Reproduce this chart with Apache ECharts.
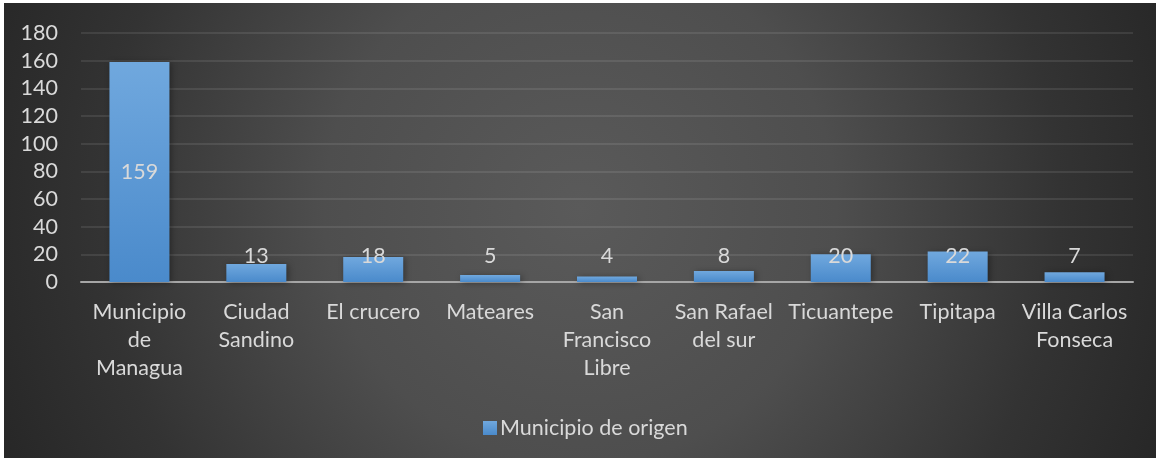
<!DOCTYPE html>
<html>
<head>
<meta charset="utf-8">
<script src="https://cdn.jsdelivr.net/npm/echarts@6/dist/echarts.min.js"></script>
<style>
  html, body { margin: 0; padding: 0; background: #ffffff; }
  #wrap {
    position: absolute; left: 4px; top: 3px; width: 1152px; height: 455px;
    background: radial-gradient(circle 640px at 50% 45%, #5a5a5a 0%, #4e4e4e 40%, #333333 75%, #262626 100%);
  }
  #chart { width: 1152px; height: 455px; }
</style>
</head>
<body>
<div id="wrap"><div id="chart"></div></div>
<script>
// categorias (con saltos de linea como en el original)
var municipios = ['Municipio\nde\nManagua', 'Ciudad\nSandino', 'El crucero', 'Mateares',
  'San\nFrancisco\nLibre', 'San Rafael\ndel sur', 'Ticuantepe', 'Tipitapa', 'Villa Carlos\nFonseca'];
var valores = [159, 13, 18, 5, 4, 8, 20, 22, 7];
var serieNombre = 'Municipio de origen';
var yTicks = [0, 20, 40, 60, 80, 100, 120, 140, 160, 180];

var fuente = 'Lato, "Open Sans", sans-serif';
var gris = '#d9d9d9';
var tam = 21.5;

var chart = echarts.init(document.getElementById('chart'));

var datos = valores.map(function (v) {
  return {
    value: v,
    label: v > 60
      ? { position: 'inside' }
      : { position: 'insideBottom', distance: 15 }
  };
});

var option = {
  backgroundColor: 'transparent',
  textStyle: { fontFamily: fuente },
  grid: { left: 77, right: 23, top: 30, bottom: 176 },
  legend: {
    data: [serieNombre],
    left: 474,
    top: 409,
    itemWidth: 14,
    itemHeight: 14,
    itemGap: 4,
    icon: 'rect',
    textStyle: { color: gris, fontSize: tam, fontFamily: fuente, padding: [0, 0, 0, -2] }
  },
  xAxis: {
    type: 'category',
    data: municipios,
    axisLine: { lineStyle: { color: '#a6a6a6', width: 2 } },
    axisTick: { show: false },
    axisLabel: {
      color: gris, fontSize: tam, fontFamily: fuente, lineHeight: 28,
      margin: 16, interval: 0
    }
  },
  yAxis: {
    type: 'value',
    min: yTicks[0],
    max: yTicks[yTicks.length - 1],
    interval: 20,
    axisLine: { show: false },
    axisTick: { show: false },
    axisLabel: { color: gris, fontSize: tam, fontFamily: fuente, margin: 23 },
    splitLine: { lineStyle: { color: 'rgba(255,255,255,0.09)', width: 2 } }
  },
  series: [{
    name: serieNombre,
    type: 'bar',
    data: datos,
    barWidth: 60,
    itemStyle: {
      color: {
        type: 'linear', x: 0, y: 0, x2: 0, y2: 1,
        colorStops: [
          { offset: 0, color: '#70a8de' },
          { offset: 1, color: '#4a8acb' }
        ]
      },
      shadowColor: 'rgba(0,0,0,0.35)',
      shadowBlur: 6,
      shadowOffsetX: 2,
      shadowOffsetY: 1
    },
    label: {
      show: true,
      color: gris,
      fontSize: tam,
      fontFamily: fuente
    }
  }]
};

chart.setOption(option);
</script>
</body>
</html>
